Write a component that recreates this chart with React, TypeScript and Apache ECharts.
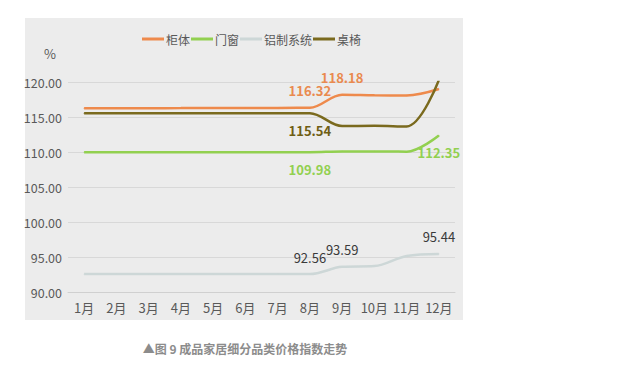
import React, { useEffect, useRef } from "react";
import * as echarts from "echarts";

const months = ["1月", "2月", "3月", "4月", "5月", "6月", "7月", "8月", "9月", "10月", "11月", "12月"];
const seriesNames = ["柜体", "门窗", "铝制系统", "桌椅"];
const cabinet = [116.25, 116.25, 116.25, 116.27, 116.3, 116.3, 116.3, 116.32, 118.18, 118.1, 118.08, 119.0];
const doorWindow = [109.98, 109.98, 109.98, 109.98, 109.98, 109.98, 109.98, 109.98, 110.08, 110.08, 110.05, 112.35];
const aluminium = [92.56, 92.56, 92.56, 92.56, 92.56, 92.56, 92.56, 92.56, 93.59, 93.7, 95.15, 95.44];
const chair = [115.54, 115.54, 115.54, 115.54, 115.54, 115.54, 115.54, 115.54, 113.7, 113.75, 113.65, 120.27];
const yTicks = [90, 95, 100, 105, 110, 115, 120];

// indices of labelled points per series
const cabinetLabels = [7, 8];
const doorLabels = [7, 11];
const aluminiumLabels = [7, 8, 11];
const chairLabels = [7, 11];

const colors = ["#EE8A4C", "#92D050", "#CDD7D7", "#7A6A1E"];
const labelColors = ["#E98A4F", "#92D050", "#3A3A3A", "#6F5E14"];

function build(values: number[], labelled: number[], pos: string[], color: string, bold: boolean) {
  return values.map((v, i) => {
    const li = labelled.indexOf(i);
    return li >= 0
      ? {
          value: v,
          label: {
            show: true,
            position: pos[li],
            distance: 10,
            color,
            fontSize: 13,
            fontWeight: bold ? "bold" : "normal",
            fontFamily: "Noto Sans CJK SC",
            formatter: (p: any) => Number(p.value).toFixed(2),
          },
        }
      : v;
  });
}

export default function App() {
  const ref = useRef<HTMLDivElement>(null);
  useEffect(() => {
    document.body.style.margin = "0";
    const chart = echarts.init(ref.current!, null, { renderer: "svg" });
    const datasets = [cabinet, doorWindow, aluminium, chair];
    const labelSets = [cabinetLabels, doorLabels, aluminiumLabels, chairLabels];
    const positions = [["top", "top"], ["bottom", "bottom"], ["top", "top", "top"], ["bottom", "top"]];
    const bolds = [true, true, false, true];
    chart.setOption({
      animation: false,
      backgroundColor: "#ffffff",
      textStyle: { fontFamily: "Noto Sans CJK SC" },
      graphic: [
        {
          type: "rect",
          z: -10,
          shape: { x: 25, y: 18, width: 438, height: 302 },
          style: { fill: "#ececec" },
          silent: true,
        },
        {
          type: "text",
          x: 245,
          y: 348,
          style: {
            text: "▲图 9 成品家居细分品类价格指数走势",
            fill: "#8c8c8c",
            fontSize: 12,
            fontWeight: "bold",
            fontFamily: "Noto Sans CJK SC",
            align: "center",
            verticalAlign: "middle",
          },
        },
        {
          type: "text",
          x: 50,
          y: 53,
          style: {
            text: "%",
            fill: "#595959",
            fontSize: 13,
            fontFamily: "Noto Sans CJK SC",
            align: "center",
            verticalAlign: "middle",
          },
        },
      ],
      legend: {
        data: seriesNames,
        top: 28,
        left: 137,
        itemGap: 1,
        itemWidth: 22,
        itemHeight: 3,
        icon: "rect",
        textStyle: { color: "#595959", fontSize: 12, padding: [0, 0, 0, -3] },
      },
      grid: { left: 68, right: 176, top: 82, bottom: 90 },
      xAxis: {
        type: "category",
        data: months,
        boundaryGap: true,
        axisLine: { lineStyle: { color: "#d0d0d0" } },
        axisTick: { show: false },
        axisLabel: { color: "#595959", fontSize: 13, margin: 9, interval: 0 },
      },
      yAxis: {
        type: "value",
        min: yTicks[0],
        max: yTicks[yTicks.length - 1],
        interval: 5,
        axisLine: { show: false },
        axisTick: { show: false },
        splitLine: { lineStyle: { color: "#d8d8d8" } },
        axisLabel: { color: "#595959", fontSize: 12.5, margin: 6, formatter: (v: number) => v.toFixed(2) },
      },
      series: datasets.map((d, k) => ({
        name: seriesNames[k],
        type: "line",
        smooth: 0.35,
        symbol: "circle",
        symbolSize: 1,
        showSymbol: true,
        lineStyle: { color: colors[k], width: 2.5 },
        itemStyle: { color: colors[k] },
        z: k === 3 ? 5 : 3,
        data: build(d, labelSets[k], positions[k], labelColors[k], bolds[k]),
      })),
    });
    return () => chart.dispose();
  }, []);
  return <div ref={ref} style={{ width: 631, height: 382 }} />;
}
